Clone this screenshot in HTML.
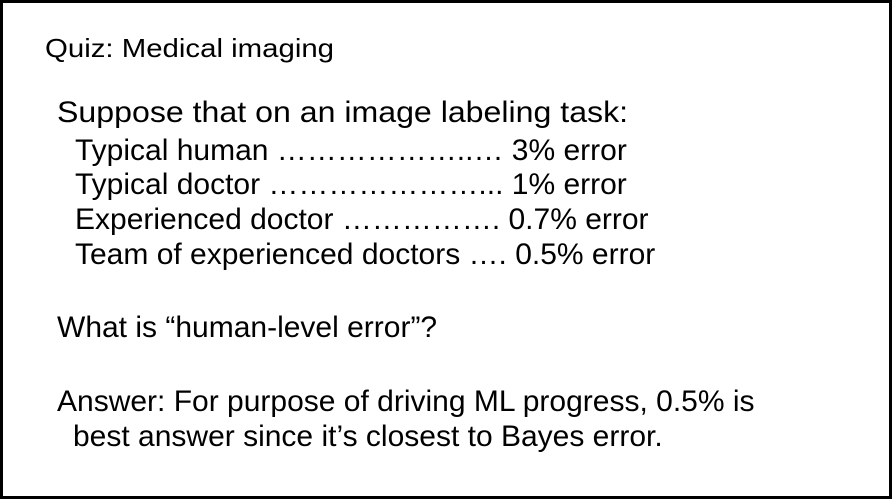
<!DOCTYPE html>
<html><head><meta charset="utf-8"><style>
html,body{margin:0;padding:0;background:#fff;}
body{width:896px;height:502px;position:relative;overflow:hidden;font-family:"Liberation Sans",Arial,sans-serif;color:#000;}
#frame{position:absolute;left:0;top:0;width:886px;height:493px;border:3px solid #000;}
.t{position:absolute;white-space:pre;font-size:30px;line-height:30px;height:30px;transform-origin:0 50%;}
</style></head><body>
<div id="frame"></div>
<div class="t" style="left:45px;top:33px;font-size:26px;transform:scaleX(1.13);">Quiz: Medical imaging</div>
<div class="t" style="left:57px;top:98px;transform:scaleX(1.07);">Suppose that on an image labeling task:</div>
<div class="t" style="left:75px;top:136px;">Typical human ………………..… 3% error</div>
<div class="t" style="left:75px;top:170px;">Typical doctor …………………... 1% error</div>
<div class="t" style="left:75px;top:205px;">Experienced doctor ……………. 0.7% error</div>
<div class="t" style="left:75px;top:240px;">Team of experienced doctors …. 0.5% error</div>
<div class="t" style="left:57px;top:313px;">What is “human-level error”?</div>
<div class="t" style="left:57px;top:387px;">Answer: For purpose of driving ML progress, 0.5% is</div>
<div class="t" style="left:73px;top:422px;">best answer since it’s closest to Bayes error.</div>
</body></html>
